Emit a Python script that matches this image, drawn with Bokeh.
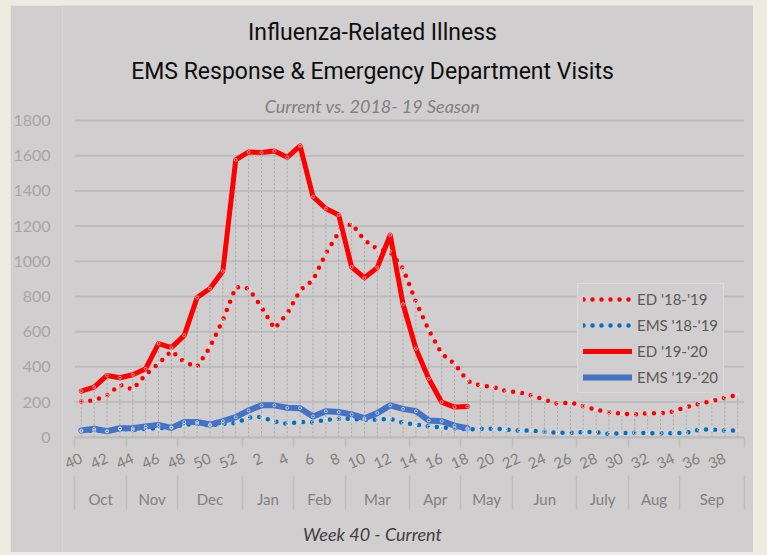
from bokeh.plotting import figure
from bokeh.models import Range1d, LinearAxis, FixedTicker, Label, Legend, LegendItem
from bokeh.embed import file_html
from bokeh.resources import INLINE

# ---------------- data ----------------
weeks = [40, 41, 42, 43, 44, 45, 46, 47, 48, 49, 50, 51, 52,
         1, 2, 3, 4, 5, 6, 7, 8, 9, 10, 11, 12, 13, 14, 15, 16, 17, 18, 19, 20,
         21, 22, 23, 24, 25, 26, 27, 28, 29, 30, 31, 32, 33, 34, 35, 36, 37, 38, 39]
months = ["Oct", "Nov", "Dec", "Jan", "Feb", "Mar", "Apr", "May", "Jun", "July", "Aug", "Sep"]
month_weeks = [4, 4, 5, 4, 4, 5, 4, 4, 5, 4, 4, 5]

ed_1819 = [203, 209, 237, 298, 271, 355, 418, 490, 427, 399, 513, 665, 854,
           845, 740, 617, 702, 835, 892, 1044, 1164, 1215, 1120, 1069, 1054, 959,
           769, 608, 475, 418, 320, 294, 285, 262, 256, 237, 213, 190, 197, 177,
           156, 142, 133, 129, 137, 135, 146, 171, 190, 205, 224, 241]
ems_1819 = [34, 38, 32, 47, 42, 47, 51, 57, 70, 76, 67, 76, 80,
            112, 115, 90, 76, 87, 85, 99, 105, 105, 99, 99, 105, 82,
            72, 61, 55, 51, 44, 48, 48, 44, 38, 38, 31, 25, 25, 29,
            29, 19, 23, 25, 23, 23, 23, 25, 42, 44, 38, 38]
ed_1920 = [262, 285, 351, 338, 355, 389, 532, 509, 579, 794, 845, 945, 1576,
           1621, 1618, 1627, 1591, 1656, 1367, 1300, 1263, 968, 906, 964, 1149, 756,
           503, 332, 199, 171, 175]
ems_1920 = [38, 48, 34, 51, 51, 61, 70, 53, 86, 86, 72, 91, 114,
            152, 181, 181, 167, 165, 118, 148, 143, 129, 108, 137, 181, 161,
            148, 95, 91, 66, 51]
y_ticks = [0, 200, 400, 600, 800, 1000, 1200, 1400, 1600, 1800]

# ---------------- layout constants (page pixels) ----------------
BG = "#D0CECE"
GRID = "#BDBDBD"
FONT = "Lato"
TITLE_FONT = "Roboto"
FIG_X, FIG_Y, FIG_W, FIG_H = 10, 5, 743, 547
FRAME_L = 60                             # frame left (page x), a little left of the categories
PX_CAT_L, PX_CAT_R = 72.4, 743.6         # page x of the category area
PY_TOP, PY_ZERO = 120.0, 436.7           # page y of the 1800 line and the 0 line
PY_MONTH = 475.0                         # page y where the month row starts
FRAME_B = FIG_Y + FIG_H                  # frame bottom (page y)

n_cat = len(weeks)
step = (PX_CAT_R - PX_CAT_L) / n_cat
x_lo = -0.5 - (PX_CAT_L - FRAME_L) / step
x_hi = n_cat - 0.5 + (FIG_X + FIG_W - PX_CAT_R) / step
k = (PY_ZERO - PY_TOP) / y_ticks[-1]
y_lo = -(FRAME_B - PY_ZERO) / k
y_hi = y_ticks[-1] + (PY_TOP - FIG_Y) / k

x_all = list(range(n_cat))
x_cur = x_all[:len(ed_1920)]
cat_lo, cat_hi = -0.5, n_cat - 0.5

p = figure(width=FIG_W, height=FIG_H, title=None,
           x_range=Range1d(x_lo, x_hi), y_range=Range1d(y_lo, y_hi),
           output_backend="svg", toolbar_location=None,
           min_border_left=FRAME_L - FIG_X, min_border_right=0,
           min_border_top=0, min_border_bottom=0,
           background_fill_color=BG, border_fill_color=BG, outline_line_color=None,
           x_axis_location=None)

p.yaxis.ticker = FixedTicker(ticks=y_ticks)
p.yaxis.axis_line_color = None
p.yaxis.major_tick_line_color = None
p.yaxis.minor_tick_line_color = None
p.yaxis.major_label_text_color = "#A6A6A6"
p.yaxis.major_label_text_font = FONT
p.yaxis.major_label_text_font_size = "16px"
p.yaxis.major_label_standoff = 6
p.grid.visible = False

# horizontal gridlines over the category area only
p.segment(x0=[cat_lo] * len(y_ticks), y0=y_ticks, x1=[cat_hi] * len(y_ticks), y1=y_ticks,
          line_color=GRID, line_width=2)

# drop lines from the highest series down to the axis
tops = []
for i in x_all:
    vals = [ed_1819[i], ems_1819[i]]
    if i < len(ed_1920):
        vals += [ed_1920[i], ems_1920[i]]
    tops.append(max(vals))
p.segment(x0=x_all, y0=[0] * n_cat, x1=x_all, y1=tops,
          line_color="#A8A8A8", line_width=1, line_dash="2 2")

r1 = p.line(x_all, ed_1819, line_color="#FF0000", line_width=4.5,
            line_dash="0 9", line_cap="round")
r2 = p.line(x_all, ems_1819, line_color="#0070C0", line_width=4.5,
            line_dash="0 9", line_cap="round")
r3 = p.line(x_cur, ed_1920, line_color="#FF0000", line_width=5,
            line_join="round", line_cap="round")
r4 = p.line(x_cur, ems_1920, line_color="#4472C4", line_width=6,
            line_join="round", line_cap="round")
for xs, ys in [(x_all, ed_1819), (x_all, ems_1819), (x_cur, ed_1920), (x_cur, ems_1920)]:
    p.scatter(xs, ys, size=3, fill_color=None, line_color="#F2F2F2",
              line_width=0.8, line_alpha=0.8)

# ---------------- x axes (weeks + months) ----------------
bounds = [cat_lo]
for n in month_weeks:
    bounds.append(bounds[-1] + n)


def key(v):
    return int(v) if float(v).is_integer() else v


week_pos = [i for i in x_all if i % 2 == 0]
ax1 = LinearAxis(ticker=FixedTicker(ticks=week_pos, minor_ticks=bounds),
                 fixed_location=0, bounds=(cat_lo, cat_hi),
                 major_label_overrides={i: str(weeks[i]) for i in week_pos},
                 major_label_orientation=0.42,
                 major_tick_in=0, major_tick_out=0,
                 minor_tick_in=0, minor_tick_out=10,
                 minor_tick_line_color=GRID, minor_tick_line_width=1.5,
                 axis_line_color=GRID, axis_line_width=2,
                 major_label_standoff=10,
                 major_label_text_color="#808080",
                 major_label_text_font=FONT,
                 major_label_text_font_size="15px")
p.add_layout(ax1, "below")

month_centers = [key((bounds[j] + bounds[j + 1]) / 2) for j in range(len(months))]
ax2 = LinearAxis(ticker=FixedTicker(ticks=month_centers, minor_ticks=bounds),
                 fixed_location=-(PY_MONTH - PY_ZERO) / k, bounds=(cat_lo, cat_hi),
                 major_label_overrides={c: m for c, m in zip(month_centers, months)},
                 major_tick_in=0, major_tick_out=0,
                 minor_tick_in=0, minor_tick_out=34,
                 minor_tick_line_color=GRID, minor_tick_line_width=1.5,
                 axis_line_color=None,
                 major_label_standoff=-20,
                 major_label_text_color="#808080",
                 major_label_text_font=FONT,
                 major_label_text_font_size="15px")
p.add_layout(ax2, "below")

# ---------------- titles (screen units from frame bottom-left) ----------------
cx = 370 - FRAME_L


def sy(page_y):
    return FRAME_B - page_y


p.add_layout(Label(x=cx, y=sy(32), x_units="screen", y_units="screen",
                   text="Influenza-Related Illness", text_align="center",
                   text_baseline="middle", text_font=TITLE_FONT,
                   text_font_size="23px", text_color="#0D0D0D"))
p.add_layout(Label(x=cx, y=sy(71), x_units="screen", y_units="screen",
                   text="EMS Response & Emergency Department Visits", text_align="center",
                   text_baseline="middle", text_font=TITLE_FONT,
                   text_font_size="23px", text_color="#0D0D0D"))
p.add_layout(Label(x=cx, y=sy(105.5), x_units="screen", y_units="screen",
                   text="Current vs. 2018- 19 Season", text_align="center",
                   text_baseline="middle", text_font=FONT, text_font_style="italic",
                   text_font_size="18px", text_color="#808080"))
p.add_layout(Label(x=cx, y=sy(533.5), x_units="screen", y_units="screen",
                   text="Week 40 - Current", text_align="center",
                   text_baseline="middle", text_font=FONT, text_font_style="italic",
                   text_font_size="18px", text_color="#404040"))

# ---------------- legend ----------------
legend = Legend(items=[LegendItem(label="ED '18-'19", renderers=[r1]),
                       LegendItem(label="EMS '18-'19", renderers=[r2]),
                       LegendItem(label="ED '19-'20", renderers=[r3]),
                       LegendItem(label="EMS '19-'20", renderers=[r4])],
                location=(515, sy(393)), margin=0, padding=5, spacing=6,
                glyph_width=49, glyph_height=20, label_height=20, label_standoff=5,
                label_text_font=FONT, label_text_font_size="15px",
                label_text_color="#595959",
                background_fill_color=BG, background_fill_alpha=1,
                border_line_color="#E6E6E6", border_line_width=1.5)
p.add_layout(legend)

html = file_html(p, INLINE)
css = ("<style>body{background-color:#EEECE1 !important;margin:0 !important;"
       "padding:%dpx 0 0 %dpx !important;box-sizing:border-box;}</style></head>" % (FIG_Y, FIG_X))
html = html.replace("</head>", css, 1)
open("out.html", "w").write(html)
